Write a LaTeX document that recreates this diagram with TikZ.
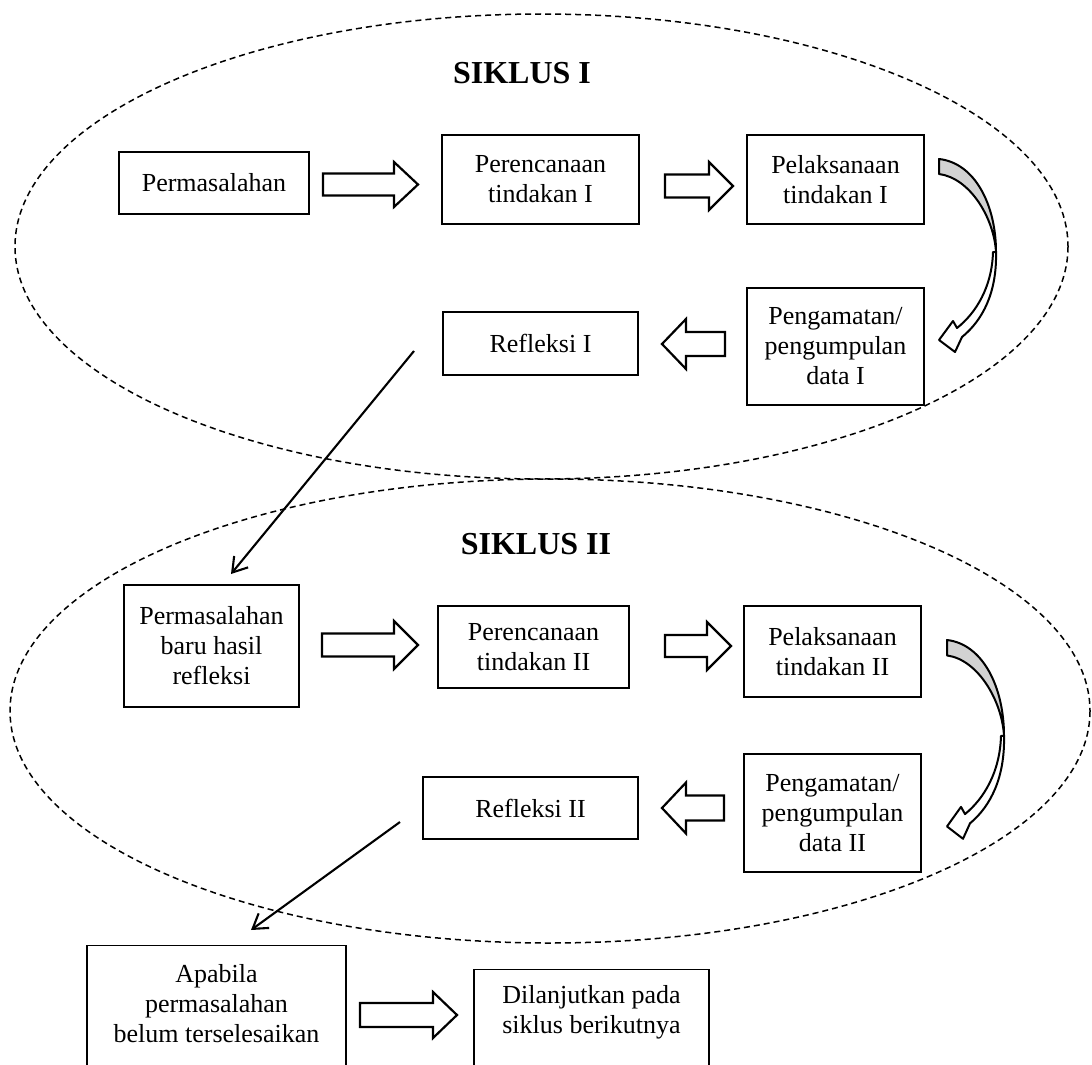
\documentclass[tikz,border=0pt]{standalone}
\usepackage{fontspec}
\setmainfont{Liberation Serif}
\usetikzlibrary{arrows.meta}
\tikzset{
  bx/.style={draw=black, line width=1.2pt, inner sep=0pt, align=center, font=\fontsize{26}{30}\selectfont},
  txt/.style={inner sep=0pt, align=center, font=\fontsize{26}{30}\selectfont},
  ttl/.style={inner sep=0pt, font=\fontsize{32}{36}\selectfont\bfseries},
  cyc/.style={draw=black, dash pattern=on 6pt off 4pt, line width=1.5pt},
  blk/.style={draw=black, fill=white, line width=2.2pt, line join=miter},
  lnk/.style={line width=2.1pt, -{Straight Barb[length=14pt,width=18pt]}},
  curv/.style={draw=black, line width=2pt, line join=round},
}
\newcommand\blkR[5]{\draw[blk] (#1,#3-#4) -- (#2-24,#3-#4) -- (#2-24,#3-#5) -- (#2,#3) -- (#2-24,#3+#5) -- (#2-24,#3+#4) -- (#1,#3+#4) -- cycle;}
\newcommand\blkL[5]{\draw[blk] (#2,#3-#4) -- (#1+24,#3-#4) -- (#1+24,#3-#5) -- (#1,#3) -- (#1+24,#3+#5) -- (#1+24,#3+#4) -- (#2,#3+#4) -- cycle;}
\newcommand\curvarrow[1]{\begin{scope}[#1]
  \filldraw[curv, fill=gray!35] (0,0) .. controls (36,4) and (57,46) .. (57,93) .. controls (55,59) and (31,19) .. (0,15) -- cycle;
  \filldraw[curv, fill=white] (57,93) .. controls (58,133) and (44,161) .. (23,178) -- (16,193) -- (0,181) -- (14,162) -- (18,169) .. controls (37,154) and (53,128) .. (54,93) -- cycle;
\end{scope}}
\begin{document}
\begin{tikzpicture}[x=1pt,y=-1pt]
\useasboundingbox (0,0) rectangle (1092,1065);
% cycles
\draw[cyc] (541.5,246.5) ellipse [x radius=526.5, y radius=232.5];
\draw[cyc] (550,711) ellipse [x radius=540, y radius=232];
% titles
\node[ttl] (t1) at (522,73.5) {SIKLUS I};
\node[ttl] (t2) at (536,544) {SIKLUS II};
% cycle I
\node[bx, minimum width=190pt, minimum height=62pt] (p1) at (214,183) {Permasalahan};
\node[bx, minimum width=197pt, minimum height=89pt] (r1) at (540.5,179.5) {Perencanaan\\tindakan I};
\node[bx, minimum width=177pt, minimum height=89pt] (l1) at (835.5,179.5) {Pelaksanaan\\tindakan I};
\node[bx, minimum width=177pt, minimum height=117pt] (g1) at (835.5,346.5) {Pengamatan/\\pengumpulan\\data I};
\node[bx, minimum width=195pt, minimum height=63pt] (f1) at (540.5,343.5) {Refleksi I};
% cycle II
\node[bx, minimum width=175pt, minimum height=122pt] (p2) at (211.5,646) {Permasalahan\\baru hasil\\refleksi};
\node[bx, minimum width=191pt, minimum height=82pt] (r2) at (533.5,647) {Perencanaan\\tindakan II};
\node[bx, minimum width=177pt, minimum height=91pt] (l2) at (832.5,651.5) {Pelaksanaan\\tindakan II};
\node[bx, minimum width=177pt, minimum height=118pt] (g2) at (832.5,813) {Pengamatan/\\pengumpulan\\data II};
\node[bx, minimum width=215pt, minimum height=62pt] (f2) at (530.5,808) {Refleksi II};
% bottom
\node[bx, minimum width=259pt, minimum height=200pt, anchor=north] (ab) at (216.5,945) {};
\node[txt] (at) at (216.5,1004) {Apabila\\permasalahan\\belum terselesaikan};
\node[bx, minimum width=235pt, minimum height=200pt, anchor=north] (db) at (591.5,969) {};
\node[txt] (dt) at (591.5,1012) {Dilanjutkan pada\\siklus berikutnya};
% block arrows
\blkR{323}{418}{184.5}{11}{22.5}
\blkR{665}{733}{186}{11.5}{24}
\blkL{662}{725}{344}{12}{25}
\blkR{322}{418}{645}{11.5}{24}
\blkR{665}{731}{646}{11}{24}
\blkL{662}{724}{808}{12.5}{25.5}
\blkR{360}{457}{1015}{12}{23}
% curved arrows
\curvarrow{shift={(939,159)}}
\curvarrow{shift={(947,640)}, yscale=1.03}
% links
\coordinate (s1) at (414,351);
\coordinate (e1) at (231,574);
\draw[lnk] (s1) -- (e1);
\coordinate (s2) at (400,822);
\coordinate (e2) at (251,930);
\draw[lnk] (s2) -- (e2);
\end{tikzpicture}
\end{document}
